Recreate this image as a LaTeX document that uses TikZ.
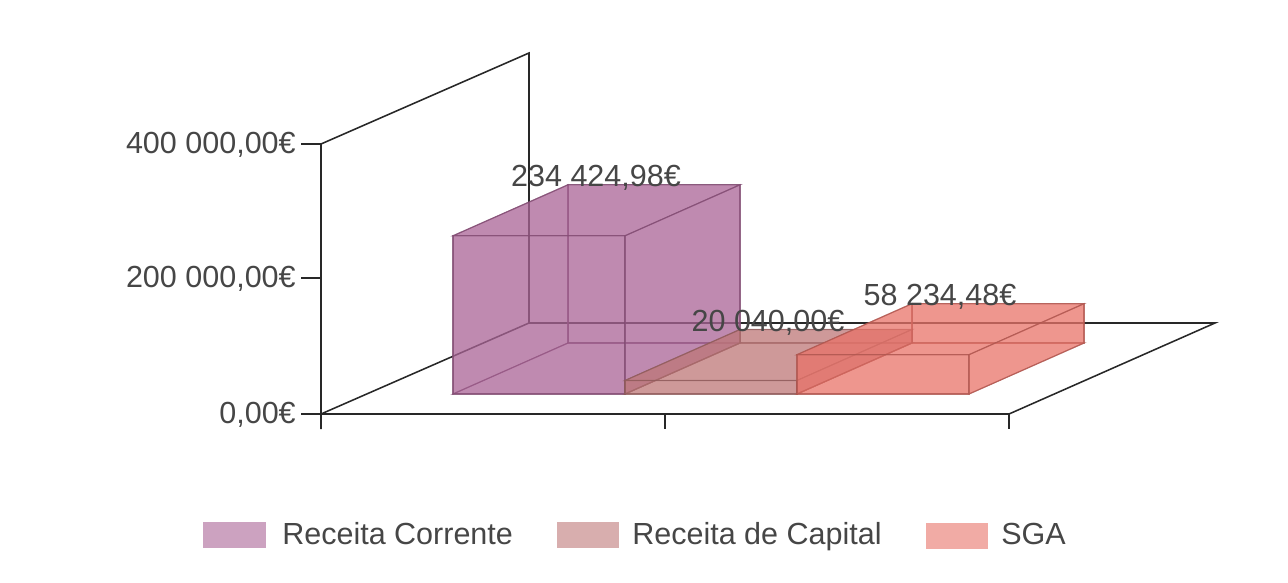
\documentclass[tikz,border=0pt]{standalone}
\usepackage{fontspec}
\setmainfont{Liberation Sans}
\definecolor{corrente}{RGB}{170,100,150}
\definecolor{capital}{RGB}{190,120,120}
\definecolor{sga}{RGB}{232,115,105}
\definecolor{axisgray}{RGB}{40,40,40}
\definecolor{textgray}{RGB}{70,70,70}
\begin{document}
\begin{tikzpicture}[x=0.025cm, y=-0.025cm,
	axis/.style={line width=1.1pt, draw=axisgray},
	face/.style={fill opacity=0.5, draw opacity=0.7, line width=0.8pt},
	value/.style={anchor=base, inner sep=0, text=textgray},
	swatch/.style={minimum width=1.55cm, minimum height=0.67cm, inner sep=0, fill opacity=0.6},
	legendtext/.style={anchor=base west, inner sep=0, text=textgray}]
	\useasboundingbox (0,0) rectangle (1288,583);
	\fontsize{21.7}{26}\selectfont

	% axis frame
	\coordinate (o) at (321,414);
	\coordinate (otop) at (321,144);
	\coordinate (back) at (529,323);
	\coordinate (backtop) at (529,53);
	\coordinate (frontend) at (1009,414);
	\coordinate (backend) at (1215,323);
	\coordinate (obelow) at (321,429);
	\draw [axis] (obelow) -- (otop) -- (backtop) -- (back) -- (backend) -- (frontend) -- (o);
	\draw [axis] (o) -- (back);

	% y-axis ticks and labels
	\foreach \y/\lab [count=\i] in {144/{400 000,00€}, 278/{200 000,00€}, 414/{0,00€}} {
		\draw [axis] (301,\y) -- (321,\y);
		\node [anchor=base east, inner sep=0, text=textgray] (ylab\i) at (296,\y+9.5) {\lab};
	}
	% x-axis ticks
	\foreach \x in {665,1009}
		\draw [axis] (\x,414) -- (\x,429);

	% bars
	\foreach \xa/\h/\col in {453/158.2/corrente, 625/13.5/capital, 797/39.3/sga} {
		\begin{scope}[face, fill=\col, draw=\col!75!black]
			\filldraw (\xa+115,343) rectangle (\xa+287,343-\h);
			\filldraw (\xa,394) -- (\xa+115,343) -- (\xa+115,343-\h) -- (\xa,394-\h) -- cycle;
			\filldraw (\xa,394) -- (\xa+172,394) -- (\xa+287,343) -- (\xa+115,343) -- cycle;
			\filldraw (\xa,394) rectangle (\xa+172,394-\h);
			\filldraw (\xa,394-\h) -- (\xa+172,394-\h) -- (\xa+287,343-\h) -- (\xa+115,343-\h) -- cycle;
			\filldraw (\xa+172,394) -- (\xa+287,343) -- (\xa+287,343-\h) -- (\xa+172,394-\h) -- cycle;
		\end{scope}
	}
	% value labels
	\node [value] (val1) at (596,186.8) {234 424,98€};
	\node [value] (val2) at (768,331.5) {20 040,00€};
	\node [value] (val3) at (940,305.7) {58 234,48€};

	% legend
	\node [swatch, fill=corrente] (keycorr) at (234.5,535) {};
	\node [legendtext] (txtcorr) at (282,544) {Receita Corrente};
	\node [swatch, fill=capital] (keycap) at (588,535) {};
	\node [legendtext] (txtcap) at (632,544) {Receita de Capital};
	\node [swatch, fill=sga] (keysga) at (957,536) {};
	\node [legendtext] (txtsga) at (1001,544) {SGA};
\end{tikzpicture}
\end{document}
